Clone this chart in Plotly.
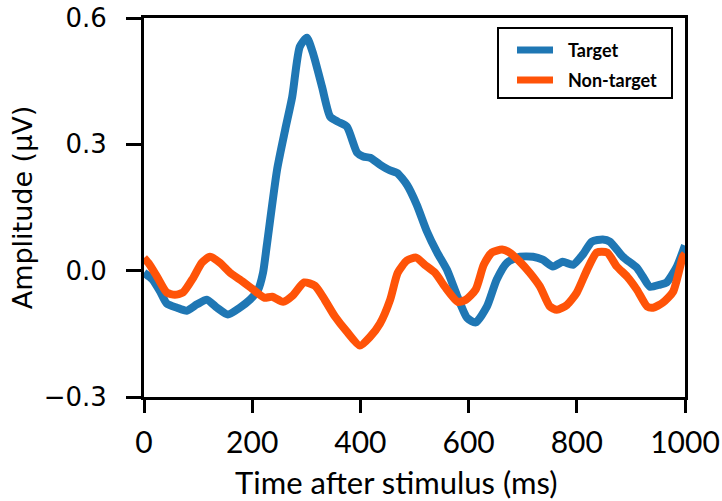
import plotly.graph_objects as go

# Grand-average ERP waveforms (ms after stimulus, amplitude in µV)
target_t = [0, 15, 30, 42, 61, 79, 98, 116, 135, 155, 177, 196, 211, 220, 227, 246, 261,
            274, 288, 301, 312, 329, 344, 358, 375, 394, 405, 418, 436, 455, 468, 486,
            504, 523, 541, 560, 578, 597, 613, 634, 652, 671, 695, 719, 737, 756, 774,
            793, 811, 828, 848, 861, 885, 911, 922, 935, 954, 966, 985, 1000]
target_v = [-0.005, -0.02, -0.05, -0.078, -0.088, -0.095, -0.08, -0.069, -0.088, -0.104,
            -0.088, -0.069, -0.045, -0.005, 0.06, 0.24, 0.335, 0.413, 0.532, 0.553, 0.518,
            0.437, 0.366, 0.354, 0.342, 0.28, 0.271, 0.268, 0.252, 0.238, 0.232, 0.204,
            0.157, 0.093, 0.045, 0.002, -0.057, -0.112, -0.123, -0.085, -0.021, 0.019,
            0.033, 0.033, 0.026, 0.01, 0.021, 0.014, 0.038, 0.069, 0.074, 0.069, 0.033,
            0.007, -0.014, -0.038, -0.033, -0.028, 0.01, 0.06]

nontarget_t = [0, 10, 24, 42, 57, 72, 91, 107, 122, 140, 159, 177, 200, 222, 237, 257,
               275, 296, 316, 334, 353, 375, 399, 418, 436, 455, 469, 486, 503, 519, 538,
               556, 580, 595, 613, 628, 643, 662, 676, 695, 713, 732, 750, 763, 782, 800,
               819, 837, 856, 874, 893, 911, 930, 941, 959, 978, 996, 1000]
nontarget_v = [0.03, 0.015, -0.014, -0.052, -0.057, -0.052, -0.017, 0.019, 0.033, 0.019,
               -0.005, -0.021, -0.043, -0.064, -0.062, -0.074, -0.059, -0.028, -0.036,
               -0.069, -0.109, -0.145, -0.178, -0.157, -0.126, -0.069, -0.005, 0.024,
               0.031, 0.014, -0.005, -0.038, -0.074, -0.069, -0.045, 0.014, 0.043, 0.05,
               0.043, 0.021, -0.005, -0.038, -0.085, -0.093, -0.081, -0.052, 0.002, 0.043,
               0.043, 0.01, -0.014, -0.045, -0.085, -0.088, -0.076, -0.05, 0.033, 0.04]

x_ticks = [0, 200, 400, 600, 800, 1000]
y_ticks = [-0.3, 0.0, 0.3, 0.6]
y_tick_text = ["\u22120.3", "0.0", "0.3", "0.6"]
x_title = "Time after stimulus (ms)"
y_title = "Amplitude (\u00b5V)"

series = [
    ("Target", target_t, target_v, "#1f77b4"),
    ("Non-target", nontarget_t, nontarget_v, "#ff5308"),
]

W, H = 722, 501
M = dict(l=144, r=37, t=18, b=104)
plot_w = W - M["l"] - M["r"]
plot_h = H - M["t"] - M["b"]


def px_to_paper(px, py):
    """Pixel position in the page -> paper coordinates of the plot area."""
    return (px - M["l"]) / plot_w, (H - M["b"] - py) / plot_h


fig = go.Figure()
for name, t, v, color in series:
    fig.add_trace(go.Scatter(x=t, y=v, mode="lines", name=name, showlegend=False,
                             line=dict(color=color, width=8, shape="spline", smoothing=0.6)))

# Boxed legend in the upper-right corner of the axes
x0, y0 = px_to_paper(498, 98)
x1, y1 = px_to_paper(672, 28)
shapes = [dict(type="rect", xref="paper", yref="paper", x0=x0, y0=y0, x1=x1, y1=y1,
               line=dict(color="black", width=2), fillcolor="white", layer="above")]
annotations = []
for i, (name, t, v, color) in enumerate(series):
    row_y = 50 + 30 * i
    lx0, ly = px_to_paper(517, row_y)
    lx1, _ = px_to_paper(553, row_y)
    tx, _ = px_to_paper(566, row_y)
    shapes.append(dict(type="line", xref="paper", yref="paper", x0=lx0, x1=lx1, y0=ly, y1=ly,
                       line=dict(color=color, width=7), layer="above"))
    annotations.append(dict(text=name, xref="paper", yref="paper", x=tx, y=ly,
                            xanchor="left", yanchor="middle", showarrow=False,
                            font=dict(family="Lato", size=18, color="black", weight="bold")))

# x-axis label, set slightly left of the axis centre
xt, yt = px_to_paper(396, 482)
annotations.append(dict(text=x_title, xref="paper", yref="paper", x=xt, y=yt,
                        xanchor="center", yanchor="middle", showarrow=False,
                        font=dict(family="Lato", size=31, color="black")))

fig.update_layout(
    width=W, height=H,
    margin=M,
    plot_bgcolor="white", paper_bgcolor="white",
    showlegend=False,
    shapes=shapes, annotations=annotations,
    xaxis=dict(range=[0, 1000], tickvals=x_ticks, ticks="outside", ticklen=13, tickwidth=3,
               tickcolor="black", showline=True, linewidth=3, linecolor="black", mirror=True,
               showgrid=False, zeroline=False, ticklabelstandoff=4, automargin=False,
               tickfont=dict(family="Lato", size=30, color="black")),
    yaxis=dict(range=[-0.3, 0.6], tickvals=y_ticks, ticktext=y_tick_text, ticks="outside",
               ticklen=15, tickwidth=3, tickcolor="black", showline=True, linewidth=3,
               linecolor="black", mirror=True, showgrid=False, zeroline=False,
               ticklabelstandoff=14, automargin=False,
               tickfont=dict(family="DejaVu Sans", size=26, color="black"),
               title=dict(text=y_title, standoff=4,
                          font=dict(family="DejaVu Sans", size=27, color="black"))),
)

fig.write_html("out.html")
